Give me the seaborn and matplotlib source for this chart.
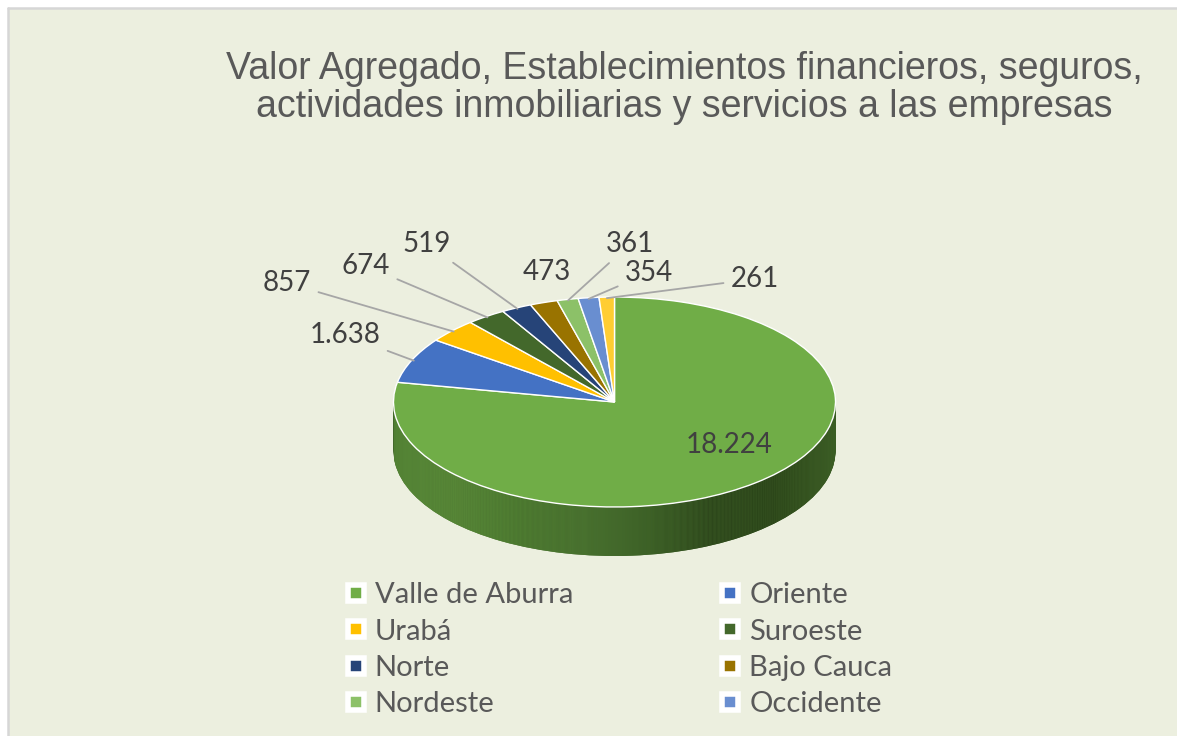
import numpy as np
import matplotlib
matplotlib.use("Agg")
import matplotlib.pyplot as plt
import seaborn as sns
from matplotlib.colors import LinearSegmentedColormap, to_rgb
from matplotlib.lines import Line2D
from matplotlib.patches import Rectangle

# ---------------- data ----------------
regions = ["Valle de Aburra", "Oriente", "Urabá", "Suroeste", "Norte",
           "Bajo Cauca", "Nordeste", "Occidente", "Magdalena Medio"]
values = [18224, 1638, 857, 674, 519, 473, 361, 354, 261]
legend_count = 8
title = ("Valor Agregado, Establecimientos financieros, seguros,\n"
         "actividades inmobiliarias y servicios a las empresas")

# ---------------- style ----------------
colors = ["#70AD47", "#4472C4", "#FFC000", "#43682B", "#264478",
          "#997300", "#8CC168", "#698ED0", "#FFCD33"]
side_stops = ["#5C8F3B", "#5A8B39", "#4F7D32", "#4A7330", "#3D6127",
              "#2E481C", "#2B4419", "#3A5A24"]
# label positions in image pixels (x, y from top)
label_pos = [(729, 445), (345, 335), (287, 283), (366, 266), (427, 244),
             (547, 272), (630, 244), (649, 273), (755, 279)]
leader = [False, True, True, True, True, False, True, True, True]

W, H = 1177, 736
k = 0.475          # vertical squash of the pie (tilt)
cx, cy_img = 614.5, 402
R = 221
depth_px = 49

sns.set_theme(style="white")
plt.rcParams["font.family"] = ["Lato", "DejaVu Sans"]

fig = plt.figure(figsize=(W / 100, H / 100), dpi=100)
fig.patch.set_facecolor("white")
fig.add_artist(Rectangle((8 / W, 0), 1.0, (H - 8) / H,
                         transform=fig.transFigure, facecolor="#ECEFDF",
                         edgecolor="none", zorder=0))
fig.add_artist(Line2D([8 / W, 8 / W], [0, (H - 8) / H], color="#D6D6D6",
                      lw=1.8, transform=fig.transFigure))
fig.add_artist(Line2D([8 / W, 1], [(H - 8) / H, (H - 8) / H], color="#D6D6D6",
                      lw=1.8, transform=fig.transFigure))

ax = fig.add_axes([0, 0, 1, 1])
ax.set_facecolor("none")

cyd = (H - cy_img) / k
side_cmap = LinearSegmentedColormap.from_list("side", side_stops)
grad = np.linspace(0, 1, 256)[None, :]
dark = [tuple(c * 0.6 for c in to_rgb(col)) for col in colors]

layers = np.arange(depth_px, 0, -1.0)
for i, d in enumerate(layers):
    c = (cx, cyd - d / k)
    z = 1 + i * 0.01
    wedges, _ = ax.pie(values, center=c, radius=R, startangle=90,
                       counterclock=False, colors=dark, frame=True,
                       wedgeprops=dict(linewidth=0))
    for w in wedges:
        w.set_zorder(z)
    im = ax.imshow(grad, extent=(cx - R, cx + R, c[1] - R, c[1] + R),
                   aspect="auto", cmap=side_cmap, interpolation="bilinear",
                   zorder=z + 0.005)
    im.set_clip_path(wedges[0])

top, _ = ax.pie(values, center=(cx, cyd), radius=R, startangle=90,
                counterclock=False, colors=colors, frame=True,
                wedgeprops=dict(edgecolor="white", linewidth=1.0))
for w in top:
    w.set_zorder(5)

ax.set_aspect("auto")
ax.set_xlim(0, W)
ax.set_ylim(0, H / k)
ax.axis("off")

# ---------------- data labels ----------------
for w, v, (lx, ly), lead in zip(top, values, label_pos, leader):
    txt = f"{v:,}".replace(",", ".")
    th = np.deg2rad((w.theta1 + w.theta2) / 2)
    anchor = (cx + R * 0.99 * np.cos(th), cyd + R * 0.99 * np.sin(th))
    tpos = (lx, (H - ly) / k)
    if lead:
        ax.annotate(txt, xy=anchor, xytext=tpos, ha="center", va="center",
                    fontsize=20, color="#404040", zorder=6,
                    arrowprops=dict(arrowstyle="-", color="#A6A6A6", lw=1.3,
                                    shrinkA=3, shrinkB=0))
    else:
        ax.text(tpos[0], tpos[1], txt, ha="center", va="center",
                fontsize=20, color="#404040", zorder=6)

# ---------------- title ----------------
fig.text(684 / W, 1 - 88 / H, title, ha="center", va="center", fontsize=27,
         color="#595959", linespacing=1.1, family=["Liberation Sans"])

# ---------------- legend ----------------
handles = [Line2D([], [], marker="s", linestyle="none", markersize=12,
                  markerfacecolor=col, markeredgecolor="white",
                  markeredgewidth=4) for col in colors[:legend_count]]
order = [0, 2, 4, 6, 1, 3, 5, 7]
fig.legend([handles[i] for i in order], [regions[i] for i in order],
           ncol=2, loc="upper left", bbox_to_anchor=(344 / W, 1 - 582 / H),
           frameon=False, fontsize=21, labelcolor="#595959",
           handlelength=0.8, handletextpad=0.25, columnspacing=5.0,
           labelspacing=0.36, borderaxespad=0, borderpad=0)

fig.savefig("out.png", dpi=100, facecolor=fig.get_facecolor())
